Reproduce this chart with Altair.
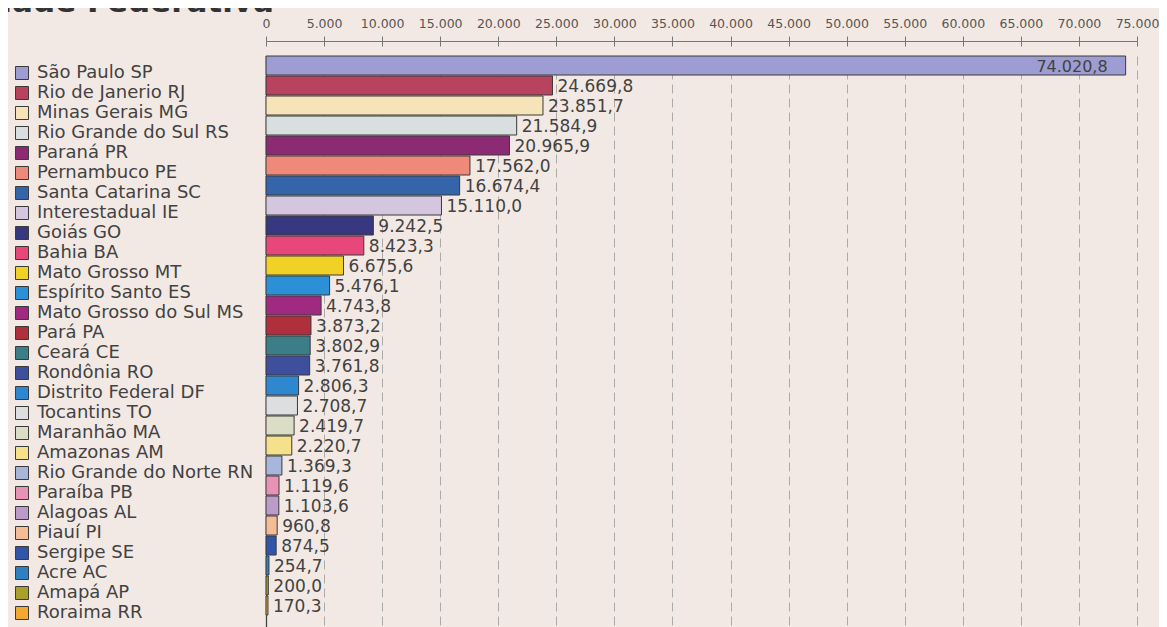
import altair as alt
import pandas as pd

names = ["São Paulo SP", "Rio de Janerio RJ", "Minas Gerais MG", "Rio Grande do Sul RS",
         "Paraná PR", "Pernambuco PE", "Santa Catarina SC", "Interestadual IE",
         "Goiás GO", "Bahia BA", "Mato Grosso MT", "Espírito Santo ES",
         "Mato Grosso do Sul MS", "Pará PA", "Ceará CE", "Rondônia RO",
         "Distrito Federal DF", "Tocantins TO", "Maranhão MA", "Amazonas AM",
         "Rio Grande do Norte RN", "Paraíba PB", "Alagoas AL", "Piauí PI",
         "Sergipe SE", "Acre AC", "Amapá AP", "Roraima RR"]
values = [74020.8, 24669.8, 23851.7, 21584.9, 20965.9, 17562.0, 16674.4, 15110.0,
          9242.5, 8423.3, 6675.6, 5476.1, 4743.8, 3873.2, 3802.9, 3761.8,
          2806.3, 2708.7, 2419.7, 2220.7, 1369.3, 1119.6, 1103.6, 960.8,
          874.5, 254.7, 200.0, 170.3]
colors = ["#9d9dd3", "#b8435f", "#f6e4b8", "#d9dfdf", "#8c2a73", "#ef8a7a", "#3465aa", "#d5c6e0",
          "#37387f", "#e8477b", "#f2d126", "#2b90d6", "#a02a80", "#b02f3c", "#3b7e88", "#3e4f9e",
          "#2e88d0", "#dcdee0", "#dcddc6", "#f5e08c", "#a9b6dc", "#e793b6", "#ba9bca", "#f4bd96",
          "#3155a8", "#2f80c0", "#a9a02c", "#f2a932"]
x_ticks = [0, 5000, 10000, 15000, 20000, 25000, 30000, 35000, 40000,
           45000, 50000, 55000, 60000, 65000, 70000, 75000]
title_text = "Unidade Federativa"


def br(v):
    s = f"{v:,.1f}"
    return s.replace(",", "X").replace(".", ",").replace("X", ".")


df = pd.DataFrame({
    "uf": names,
    "v": values,
    "lab": [br(v) for v in values],
    "inside": [v == max(values) for v in values],
})

FONT = "DejaVu Sans"
TXT = "#424242"
LEFT = 258

y_enc = alt.Y("uf:N", sort=names, title=None,
              scale=alt.Scale(paddingInner=0.05, paddingOuter=0.3, align=0, round=False),
              axis=alt.Axis(labels=False, ticks=False, domain=True, domainColor="#444444",
                            domainWidth=1.3, grid=False, title=None))

label_expr = "replace(format(datum.value, ','), ',', '.')"
x_scale = alt.Scale(domain=[0, 75000], nice=False, zero=True)

bars = alt.Chart(df).mark_bar(stroke="#3a3a3a", strokeWidth=1).encode(
    x=alt.X("v:Q", scale=x_scale, title=None,
            axis=alt.Axis(orient="top", values=x_ticks, labelExpr=label_expr, offset=15,
                          tickSize=5, tickColor="#777777", domainColor="#777777",
                          labelFont=FONT, labelFontSize=12.5, labelColor="#555555",
                          labelPadding=6, labelFlush=False,
                          grid=True, gridDash=[9, 5], gridColor="#9a9a9a", gridWidth=0.8)),
    y=y_enc,
    color=alt.Color("uf:N", scale=alt.Scale(domain=names, range=colors),
                    legend=alt.Legend(orient="none", legendX=13 - (LEFT + 8), legendY=8,
                                      title=None,
                                      symbolType="square", symbolSize=169,
                                      symbolStrokeColor="#3a3a3a", symbolStrokeWidth=1,
                                      symbolOpacity=1,
                                      labelFont=FONT, labelFontSize=18, labelColor=TXT,
                                      labelOffset=6, rowPadding=2, labelLimit=0, padding=0)),
)

outside = alt.Chart(df).transform_filter("!datum.inside").mark_text(
    align="left", baseline="middle", dx=5, dy=1, font=FONT, fontSize=17, color=TXT
).encode(
    x=alt.X("v:Q", scale=x_scale, title=None,
            axis=alt.Axis(orient="top", values=x_ticks, offset=10, tickSize=5,
                          tickColor="#777777", domain=False, labels=False, grid=False)),
    y=y_enc,
    text="lab:N",
)

inside = alt.Chart(df).transform_filter("datum.inside").mark_text(
    align="right", baseline="middle", dx=-18, dy=1, font=FONT, fontSize=16, color=TXT
).encode(
    x=alt.X("v:Q", scale=x_scale, title=None, axis=None),
    y=y_enc,
    text="lab:N",
)

title = alt.Chart(pd.DataFrame({"t": [title_text]})).mark_text(
    align="left", baseline="alphabetic", font=FONT, fontSize=31, fontWeight="bold",
    color="#333333"
).encode(x=alt.value(-68 - (LEFT + 8)), y=alt.value(-44), text="t:N")

chart = alt.layer(bars, outside, inside, title).resolve_axis(x="independent").properties(
    width=871, height=571,
    padding={"left": LEFT, "top": 48, "right": 1151 - LEFT - 871, "bottom": 0},
    autosize=alt.AutoSizeParams(type="none"),
    background="#f3e9e4",
).configure_view(stroke=None)

chart.save("out.html", embed_options={"renderer": "svg", "actions": False})
